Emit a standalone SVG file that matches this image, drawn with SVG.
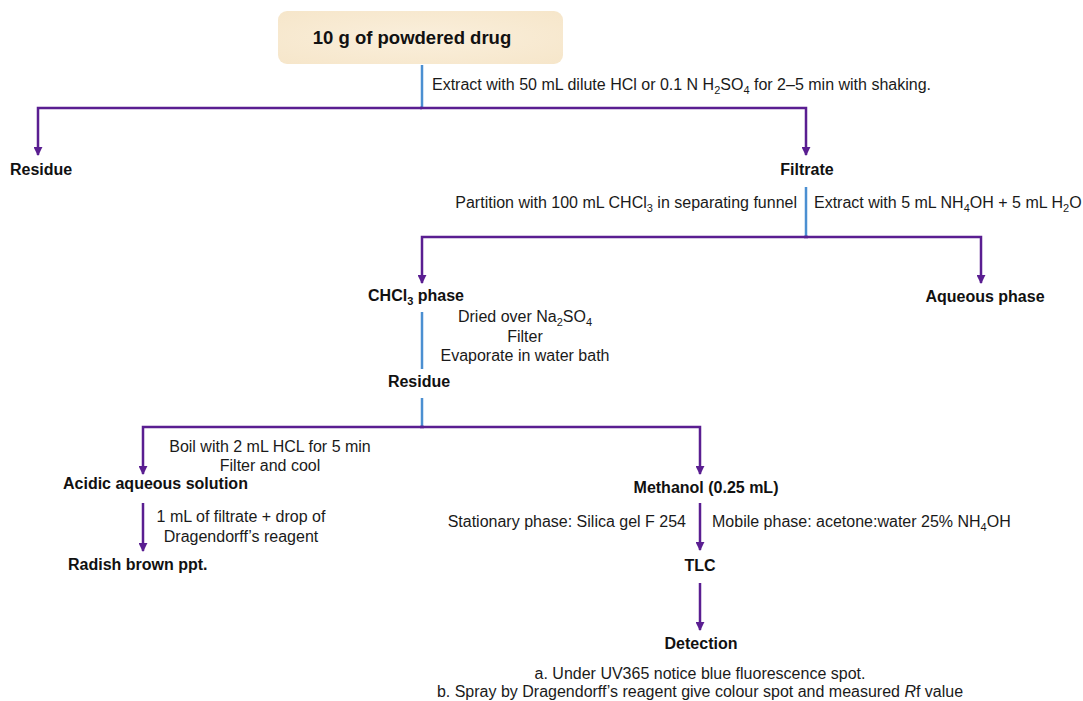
<svg xmlns="http://www.w3.org/2000/svg" width="1083" height="701" viewBox="0 0 1083 701">
  <defs>
    <marker id="arrow" viewBox="0 0 10 10" refX="9" refY="5" markerWidth="9" markerHeight="9" markerUnits="userSpaceOnUse" orient="auto">
      <path d="M0,0 L10,5 L0,10 Z" fill="#5a1e91"/>
    </marker>
    <radialGradient id="boxFill" cx="50%" cy="50%" r="70%">
      <stop offset="0%" stop-color="#faefdc"/>
      <stop offset="100%" stop-color="#f6e6ca"/>
    </radialGradient>
    <style>
      .t { font-family: "Liberation Sans", Arial, sans-serif; font-size: 16px; fill: #1a1a1a; }
      .b { font-family: "Liberation Sans", Arial, sans-serif; font-size: 16px; font-weight: bold; fill: #111; }
      .c { text-anchor: middle; }
      .e { text-anchor: end; }
      .sub { font-size: 11px; }
      .step { fill: none; stroke: #4b8fd1; stroke-width: 2.5; }
      .flow { fill: none; stroke: #5a1e91; stroke-width: 2.5; }
    </style>
  </defs>
  <rect width="1083" height="701" fill="#ffffff"/>

  <!-- connectors -->
  <g id="connectors">
    <path class="step" d="M422,65 V108"/>
    <path class="flow" d="M422,108 H38 V155" marker-end="url(#arrow)"/>
    <path class="flow" d="M420,108 H806 V155" marker-end="url(#arrow)"/>
    <path class="step" d="M806,187 V237"/>
    <path class="flow" d="M808,237 H422 V283" marker-end="url(#arrow)"/>
    <path class="flow" d="M804,237 H981 V283" marker-end="url(#arrow)"/>
    <path class="step" d="M422,312 V369"/>
    <path class="step" d="M422,398 V427"/>
    <path class="flow" d="M424,427 H143 V474" marker-end="url(#arrow)"/>
    <path class="flow" d="M420,427 H700 V474" marker-end="url(#arrow)"/>
    <path class="flow" d="M143,503 V551" marker-end="url(#arrow)"/>
    <path class="flow" d="M700,503 V550" marker-end="url(#arrow)"/>
    <path class="flow" d="M700,583 V630" marker-end="url(#arrow)"/>
  </g>

  <!-- step labels -->
  <g id="step-labels">
    <text class="t" x="432" y="90">Extract with 50 mL dilute HCl or 0.1 N H<tspan class="sub" dy="4">2</tspan><tspan dy="-4">SO</tspan><tspan class="sub" dy="4">4</tspan><tspan dy="-4"> for 2–5 min with shaking.</tspan></text>
    <text class="t e" x="797" y="208">Partition with 100 mL CHCl<tspan class="sub" dy="4">3</tspan><tspan dy="-4"> in separating funnel</tspan></text>
    <text class="t" x="814" y="208">Extract with 5 mL NH<tspan class="sub" dy="4">4</tspan><tspan dy="-4">OH + 5 mL H</tspan><tspan class="sub" dy="4">2</tspan><tspan dy="-4">O</tspan></text>
    <text class="t c" x="525" y="322">Dried over Na<tspan class="sub" dy="4">2</tspan><tspan dy="-4">SO</tspan><tspan class="sub" dy="4">4</tspan></text>
    <text class="t c" x="525" y="342">Filter</text>
    <text class="t c" x="525" y="361">Evaporate in water bath</text>
    <text class="t c" x="270" y="452">Boil with 2 mL HCL for 5 min</text>
    <text class="t c" x="270" y="471">Filter and cool</text>
    <text class="t c" x="241" y="522">1 mL of filtrate + drop of</text>
    <text class="t c" x="241" y="542">Dragendorff’s reagent</text>
    <text class="t e" x="686" y="527">Stationary phase: Silica gel F 254</text>
    <text class="t" x="712" y="527">Mobile phase: acetone:water 25% NH<tspan class="sub" dy="4">4</tspan><tspan dy="-4">OH</tspan></text>
    <text class="t c" x="700" y="679">a. Under UV365 notice blue fluorescence spot.</text>
    <text class="t c" x="700" y="697">b. Spray by Dragendorff’s reagent give colour spot and measured <tspan font-style="italic">R</tspan>f value</text>
  </g>

  <!-- nodes -->
  <g id="node-start">
    <rect x="278" y="11" width="285" height="53" rx="9" ry="9" fill="url(#boxFill)"/>
    <text class="b c" x="412" y="44" style="font-size:18.5px">10 g of powdered drug</text>
  </g>
  <g id="node-residue-1">
    <text class="b" x="10" y="175">Residue</text>
  </g>
  <g id="node-filtrate">
    <text class="b c" x="807" y="175">Filtrate</text>
  </g>
  <g id="node-chcl3-phase">
    <text class="b c" x="416" y="301">CHCl<tspan class="sub" dy="4">3</tspan><tspan dy="-4"> phase</tspan></text>
  </g>
  <g id="node-aqueous-phase">
    <text class="b c" x="985" y="302">Aqueous phase</text>
  </g>
  <g id="node-residue-2">
    <text class="b c" x="419" y="387">Residue</text>
  </g>
  <g id="node-acidic">
    <text class="b" x="63" y="489">Acidic aqueous solution</text>
  </g>
  <g id="node-ppt">
    <text class="b" x="68" y="570">Radish brown ppt.</text>
  </g>
  <g id="node-methanol">
    <text class="b c" x="706" y="493">Methanol (0.25 mL)</text>
  </g>
  <g id="node-tlc">
    <text class="b c" x="700" y="571">TLC</text>
  </g>
  <g id="node-detection">
    <text class="b c" x="701" y="649">Detection</text>
  </g>
</svg>
